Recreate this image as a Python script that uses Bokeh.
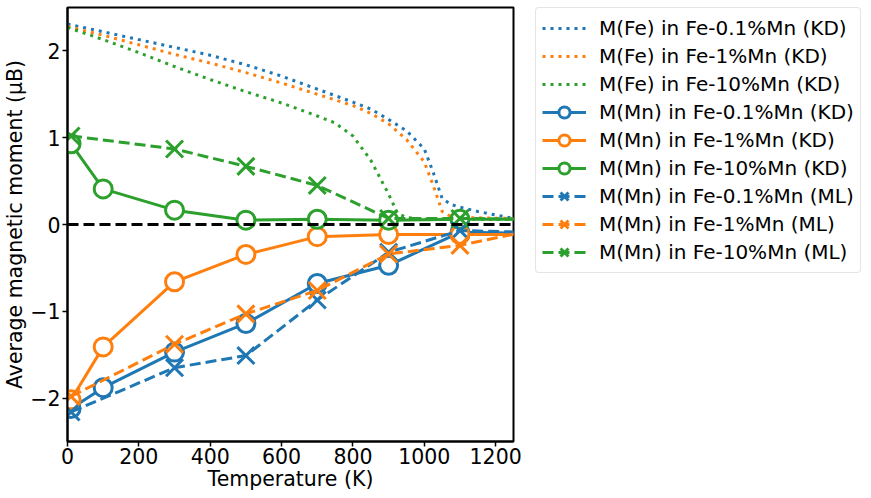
from bokeh.plotting import figure
from bokeh.layouts import row
from bokeh.models import Legend, LegendItem, FixedTicker, CustomJSTickFormatter, Range1d, Span
from bokeh.embed import file_html
from bokeh.resources import INLINE

# ---- data ----
T_fe_01 = [0, 100, 200, 300, 400, 500, 600, 700, 800, 850, 900, 950, 1000, 1025, 1050, 1075, 1100, 1150, 1200, 1250]
M_fe_01 = [2.31, 2.22, 2.13, 2.04, 1.95, 1.84, 1.71, 1.56, 1.41, 1.33, 1.21, 1.08, 0.87, 0.60, 0.30, 0.23, 0.20, 0.15, 0.11, 0.07]
T_fe_1 = [0, 100, 200, 300, 400, 500, 600, 700, 800, 850, 900, 950, 1000, 1025, 1050, 1075, 1100, 1250]
M_fe_1 = [2.28, 2.18, 2.07, 1.96, 1.86, 1.75, 1.63, 1.50, 1.37, 1.28, 1.16, 0.98, 0.72, 0.45, 0.15, 0.09, 0.08, 0.07]
T_fe_10 = [0, 100, 200, 300, 400, 500, 600, 700, 750, 800, 850, 900, 925, 950, 1000, 1250]
M_fe_10 = [2.27, 2.13, 1.98, 1.82, 1.67, 1.53, 1.40, 1.25, 1.17, 1.02, 0.74, 0.35, 0.13, 0.08, 0.06, 0.06]

T_kd = [10, 100, 300, 500, 700, 900, 1100, 1300]
M_mn_kd_01 = [-2.12, -1.88, -1.47, -1.14, -0.68, -0.47, -0.09, -0.10]
M_mn_kd_1 = [-2.02, -1.41, -0.66, -0.345, -0.14, -0.115, -0.115, -0.115]
M_mn_kd_10 = [0.93, 0.41, 0.165, 0.05, 0.06, 0.05, 0.06, 0.06]

T_ml = [10, 300, 500, 700, 900, 1100, 1300]
M_mn_ml_01 = [-2.16, -1.65, -1.51, -0.87, -0.32, -0.07, -0.09]
M_mn_ml_1 = [-1.98, -1.38, -1.03, -0.76, -0.34, -0.24, -0.07]
M_mn_ml_10 = [1.02, 0.87, 0.67, 0.45, 0.07, 0.07, 0.06]

labels_fe = ["M(Fe) in Fe-0.1%Mn (KD)", "M(Fe) in Fe-1%Mn (KD)", "M(Fe) in Fe-10%Mn (KD)"]
labels_kd = ["M(Mn) in Fe-0.1%Mn (KD)", "M(Mn) in Fe-1%Mn (KD)", "M(Mn) in Fe-10%Mn (KD)"]
labels_ml = ["M(Mn) in Fe-0.1%Mn (ML)", "M(Mn) in Fe-1%Mn (ML)", "M(Mn) in Fe-10%Mn (ML)"]
x_ticks = [0, 200, 400, 600, 800, 1000, 1200]
y_ticks = [-2, -1, 0, 1, 2]

colors = ["#1f77b4", "#ff7f0e", "#2ca02c"]
FONT = "DejaVu Sans"

p = figure(width=524, height=496, output_backend="svg", toolbar_location=None,
           x_range=Range1d(0, 1250), y_range=Range1d(-2.5, 2.5),
           min_border_left=67, min_border_right=11, min_border_top=7, min_border_bottom=55)
p.grid.visible = False
p.outline_line_color = "black"
p.outline_line_width = 2
p.background_fill_color = "white"
p.border_fill_color = "white"

for ax in (p.xaxis[0], p.yaxis[0]):
    ax.axis_line_width = 2
    ax.axis_line_color = "black"
    ax.major_tick_line_width = 1.5
    ax.major_tick_out = 5
    ax.major_tick_in = 0
    ax.minor_tick_line_color = None
    ax.major_label_text_font = FONT
    ax.major_label_text_font_size = "20.5px"
    ax.major_label_text_color = "black"
    ax.axis_label_text_font = FONT
    ax.axis_label_text_font_size = "20.5px"
    ax.axis_label_text_font_style = "normal"
    ax.axis_label_text_color = "black"
    ax.axis_label_standoff = 0

p.xaxis.major_label_standoff = 1
p.yaxis.major_label_standoff = 2
p.xaxis.ticker = FixedTicker(ticks=x_ticks)
p.yaxis.ticker = FixedTicker(ticks=y_ticks)
p.yaxis.formatter = CustomJSTickFormatter(code="return tick < 0 ? '\u2212' + Math.abs(tick) : tick.toString();")
p.xaxis.axis_label = "Temperature (K)"
p.yaxis.axis_label = "Average magnetic moment (\u03bcB)"

zero = Span(location=0, dimension="width", line_color="black", line_width=3, line_dash="11 5")
p.add_layout(zero)

# legend panel: a second figure whose view range is far from the data,
# holding renderers with the same styles only for the legend glyphs
q = figure(width=339, height=496, output_backend="svg", toolbar_location=None,
           x_range=Range1d(50000, 50001), y_range=Range1d(50000, 50001),
           x_axis_location=None, y_axis_location=None,
           min_border_left=11, min_border_right=0, min_border_top=7, min_border_bottom=0)
q.grid.visible = False
q.outline_line_color = None
q.border_fill_color = "white"
q.background_fill_color = "white"

items = []
fe_sets = [(T_fe_01, M_fe_01), (T_fe_1, M_fe_1), (T_fe_10, M_fe_10)]
for (t, m), c, lab in zip(fe_sets, colors, labels_fe):
    style = dict(line_color=c, line_width=3, line_dash="3 5")
    p.line(t, m, **style)
    items.append(LegendItem(label=lab, renderers=[q.line(t, m, **style)]))

kd_sets = [M_mn_kd_01, M_mn_kd_1, M_mn_kd_10]
for m, c, lab in zip(kd_sets, colors, labels_kd):
    lstyle = dict(line_color=c, line_width=3)
    mstyle = dict(marker="circle", size=18, line_color=c, line_width=3, fill_color="white")
    p.line(T_kd, m, **lstyle)
    p.scatter(T_kd, m, **mstyle)
    items.append(LegendItem(label=lab, renderers=[q.line(T_kd, m, **lstyle), q.scatter(T_kd, m, **mstyle)]))

ml_sets = [M_mn_ml_01, M_mn_ml_1, M_mn_ml_10]
for m, c, lab in zip(ml_sets, colors, labels_ml):
    lstyle = dict(line_color=c, line_width=3, line_dash="11 5")
    mstyle = dict(marker="x", size=24, line_color=c, line_width=3)
    p.line(T_ml, m, **lstyle)
    p.scatter(T_ml, m, **mstyle)
    items.append(LegendItem(label=lab, renderers=[q.line(T_ml, m, **lstyle), q.scatter(T_ml, m, **mstyle)]))

legend = Legend(items=items, location="top_left")
legend.label_text_font = FONT
legend.label_text_font_size = "20px"
legend.label_text_color = "black"
legend.glyph_width = 44
legend.glyph_height = 28
legend.spacing = 0
legend.padding = 6
legend.margin = 0
legend.label_standoff = 13
legend.label_height = 20
legend.border_line_color = "#cccccc"
legend.border_line_width = 1.5
legend.background_fill_alpha = 1.0
if "border_radius" in Legend.properties():
    legend.border_radius = 4
q.add_layout(legend, "center")

layout = row(p, q, spacing=0)
open("out.html", "w").write(file_html(layout, INLINE))
